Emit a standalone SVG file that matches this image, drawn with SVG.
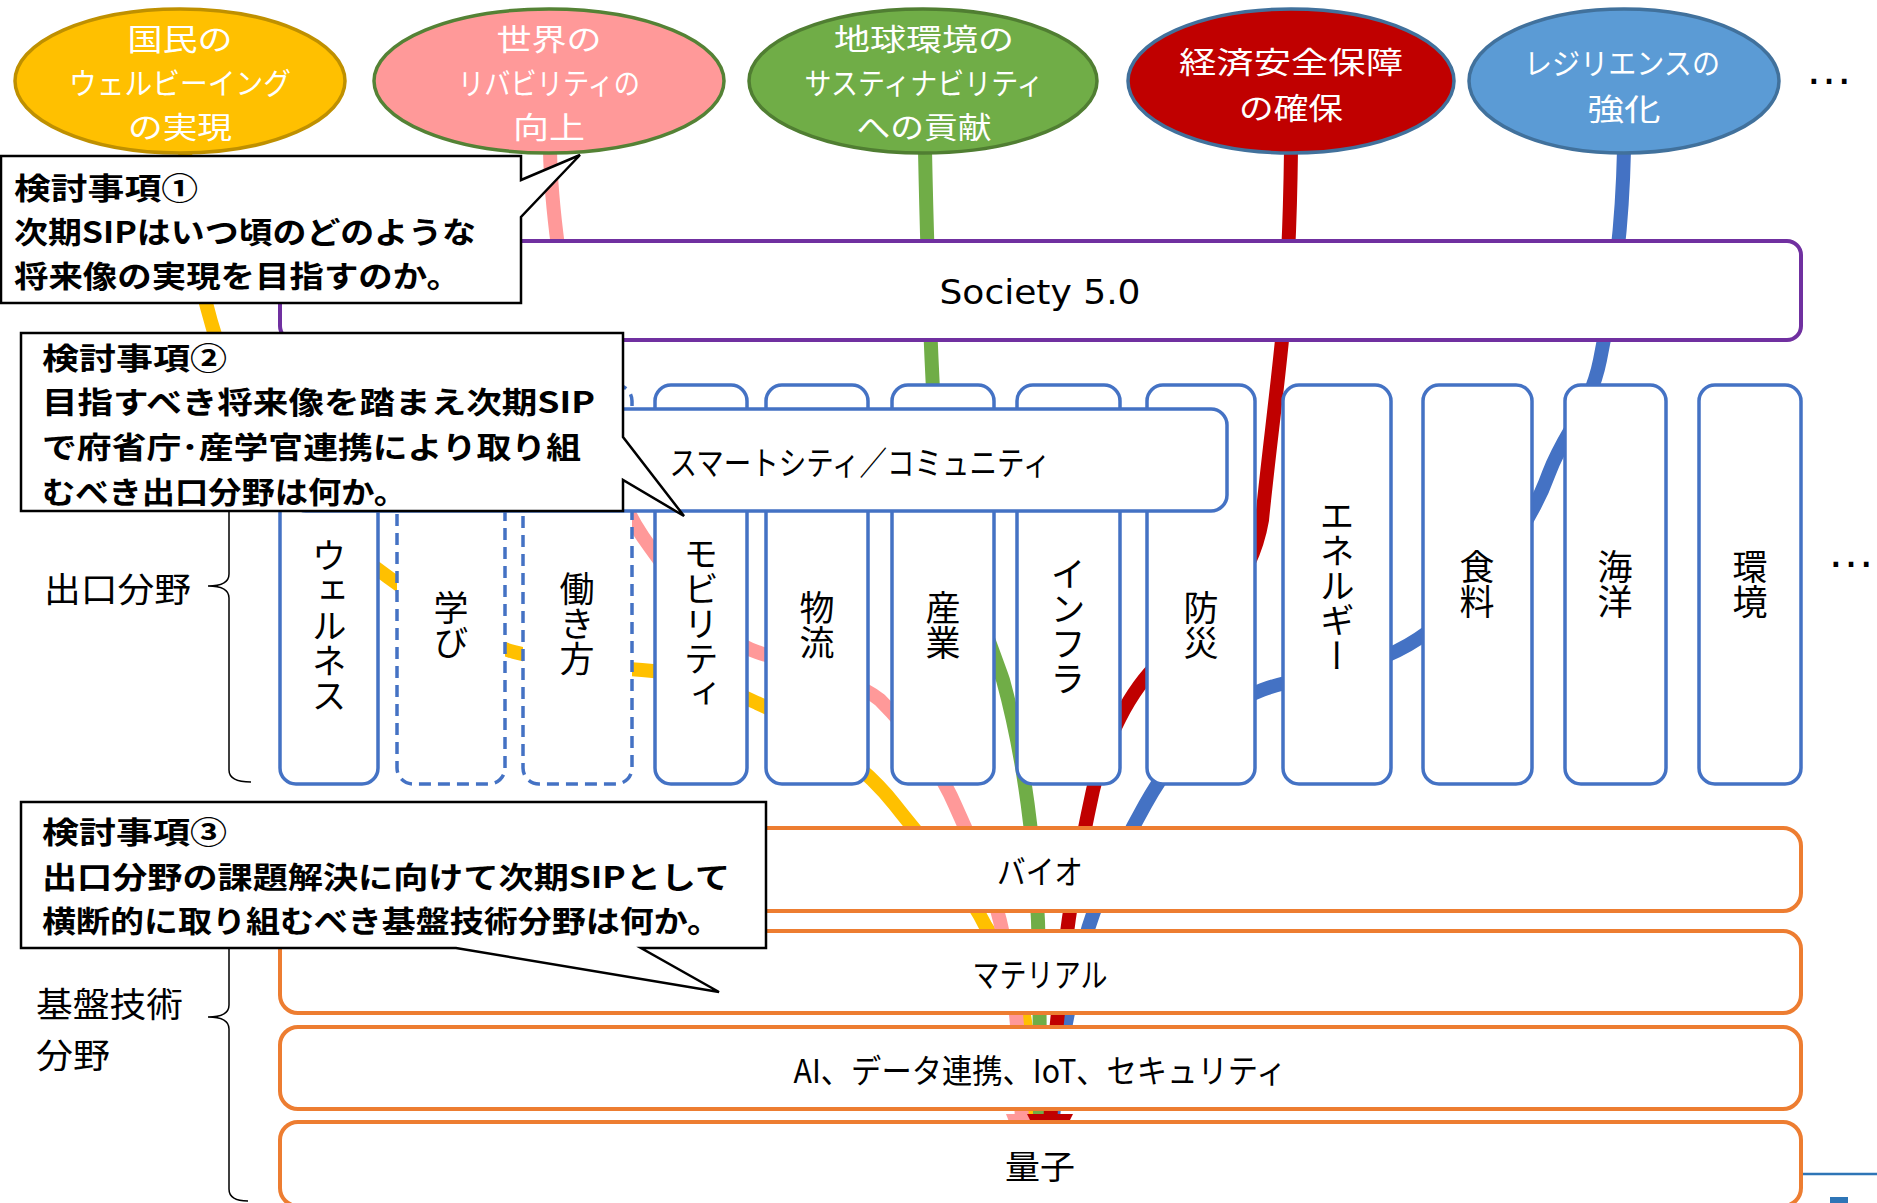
<svg xmlns="http://www.w3.org/2000/svg" width="1877" height="1203" viewBox="0 0 1877 1203">
<style>
.et{font-family:"Noto Sans CJK JP",sans-serif;font-size:30px;fill:#fff;text-anchor:middle;dominant-baseline:central}
.lb{font-family:"Noto Sans CJK JP",sans-serif;font-size:33px;fill:#000;text-anchor:middle;dominant-baseline:central}
.vt{font-family:"Noto Sans CJK JP",sans-serif;font-size:35px;fill:#000;writing-mode:vertical-rl;text-anchor:middle}
.co{font-family:"Noto Sans CJK JP",sans-serif;font-size:30px;font-weight:700;fill:#000;dominant-baseline:central}
.side{font-family:"Noto Sans CJK JP",sans-serif;font-size:34.5px;fill:#000;dominant-baseline:central}
.dots{font-family:"Liberation Sans",sans-serif;font-size:48px;fill:#000;text-anchor:middle}
.exit{fill:#fff;stroke:#4472C4;stroke-width:3.5}
.exitd{fill:#fff;stroke:#4472C4;stroke-width:3.5;stroke-dasharray:12 7}
.found{fill:#fff;stroke:#ED7D31;stroke-width:4}
.ln{fill:none;stroke-width:14}
.callout{fill:#fff;stroke:#000;stroke-width:2.5;stroke-linejoin:miter}
.brace{fill:none;stroke:#000;stroke-width:1.5}
</style>

<g id="connectors">
  <path class="ln" stroke="#FFC000" d="M185,150 C192,330 250,480 388,577 C440,614 470,640 514,652 C560,664 600,667 642,670 C690,673 725,688 757,703 C800,722 860,760 895,805 C930,850 965,885 985,925 C1010,965 1025,1000 1027,1040 L1030,1130"/>
  <path class="ln" stroke="#FF9999" d="M550,150 C552,260 590,460 643,537 C680,590 720,640 757,652 C810,670 855,680 880,700 C910,730 940,770 955,805 C975,850 990,880 1000,921 C1012,970 1020,1020 1022,1130"/>
  <path class="ln" stroke="#70AD47" d="M925,150 C927,250 930,330 933,390 C940,520 978,610 1003,680 C1025,760 1035,850 1038,921 C1040,990 1040,1050 1040,1130"/>
  <path class="ln" stroke="#4472C4" d="M1624,150 C1622,240 1612,300 1600,360 C1590,410 1565,430 1549,473 C1525,540 1460,615 1408,645 C1356,675 1300,675 1262,690 C1210,710 1170,760 1145,805 C1120,850 1095,900 1085,940 C1072,990 1058,1050 1052,1130"/>
  <path class="ln" stroke="#C00000" d="M1291,150 C1290,230 1287,290 1282,340 C1276,400 1268,460 1262,520 C1250,590 1200,630 1160,662 C1130,690 1105,740 1093,790 C1080,850 1070,900 1065,950 C1058,1010 1052,1060 1050,1130"/>
  <polygon fill="#FF9999" points="1006,1114 1032,1114 1020,1150"/>
  <polygon fill="#C00000" points="1027,1114 1073,1114 1050,1160"/>
</g>

<g id="n-wellbeing">
  <ellipse cx="180" cy="81" rx="165" ry="72" fill="#FFC000" stroke="#BF9000" stroke-width="3.5"/>
  <text class="et"><tspan x="180" y="37" textLength="105" lengthAdjust="spacingAndGlyphs">国民の</tspan><tspan x="180" y="81" textLength="222" lengthAdjust="spacingAndGlyphs">ウェルビーイング</tspan><tspan x="180" y="125" textLength="104" lengthAdjust="spacingAndGlyphs">の実現</tspan></text>
</g>
<g id="n-livability">
  <ellipse cx="549" cy="81" rx="175" ry="72" fill="#FF9999" stroke="#548235" stroke-width="3.5"/>
  <text class="et"><tspan x="549" y="37" textLength="105" lengthAdjust="spacingAndGlyphs">世界の</tspan><tspan x="549" y="81" textLength="182" lengthAdjust="spacingAndGlyphs">リバビリティの</tspan><tspan x="549" y="125" textLength="72" lengthAdjust="spacingAndGlyphs">向上</tspan></text>
</g>
<g id="n-sustainability">
  <ellipse cx="923" cy="81" rx="174" ry="72" fill="#70AD47" stroke="#507E32" stroke-width="3.5"/>
  <text class="et"><tspan x="924" y="37" textLength="180" lengthAdjust="spacingAndGlyphs">地球環境の</tspan><tspan x="924" y="81" textLength="239" lengthAdjust="spacingAndGlyphs">サスティナビリティ</tspan><tspan x="924" y="125" textLength="135" lengthAdjust="spacingAndGlyphs">への貢献</tspan></text>
</g>
<g id="n-security">
  <ellipse cx="1291" cy="81" rx="163" ry="72" fill="#C00000" stroke="#41719C" stroke-width="3.5"/>
  <text class="et"><tspan x="1291" y="60" textLength="224" lengthAdjust="spacingAndGlyphs">経済安全保障</tspan><tspan x="1291" y="106" textLength="104" lengthAdjust="spacingAndGlyphs">の確保</tspan></text>
</g>
<g id="n-resilience">
  <ellipse cx="1624" cy="81" rx="155" ry="72" fill="#5B9BD5" stroke="#41719C" stroke-width="3.5"/>
  <text class="et"><tspan x="1622" y="61" textLength="196" lengthAdjust="spacingAndGlyphs">レジリエンスの</tspan><tspan x="1624" y="107" textLength="73" lengthAdjust="spacingAndGlyphs">強化</tspan></text>
</g>
<text class="dots" x="1829" y="84">…</text>

<g id="n-society">
  <rect x="280" y="241" width="1521" height="99" rx="14" fill="#fff" stroke="#7030A0" stroke-width="4"/>
  <text x="1040" y="292" font-family="DejaVu Sans, sans-serif" font-size="34" text-anchor="middle" dominant-baseline="central" textLength="201" lengthAdjust="spacingAndGlyphs">Society 5.0</text>
</g>

<g id="n-wellness"><rect class="exit" x="280" y="385" width="98" height="399" rx="16"/><text class="vt" x="329" y="626">ウェルネス</text></g>
<g id="n-learning"><rect class="exitd" x="397" y="385" width="108" height="399" rx="16"/><text class="vt" x="451" y="625">学び</text></g>
<g id="n-working"><rect class="exitd" x="523" y="385" width="109" height="399" rx="16"/><text class="vt" x="577" y="624">働き方</text></g>
<g id="n-mobility"><rect class="exit" x="655" y="385" width="92" height="399" rx="16"/><text class="vt" x="701" y="624">モビリティ</text></g>
<g id="n-logistics"><rect class="exit" x="766" y="385" width="102" height="399" rx="16"/><text class="vt" x="817" y="625">物流</text></g>
<g id="n-industry"><rect class="exit" x="892" y="385" width="102" height="399" rx="16"/><text class="vt" x="943" y="625">産業</text></g>
<g id="n-infra"><rect class="exit" x="1017" y="385" width="103" height="399" rx="16"/><text class="vt" x="1068" y="626">インフラ</text></g>
<g id="n-disaster"><rect class="exit" x="1147" y="385" width="108" height="399" rx="16"/><text class="vt" x="1201" y="625">防災</text></g>
<g id="n-energy"><rect class="exit" x="1283" y="385" width="108" height="399" rx="16"/><text class="vt" x="1337" y="586">エネルギー</text></g>
<g id="n-food"><rect class="exit" x="1423" y="385" width="109" height="399" rx="16"/><text class="vt" x="1477" y="584">食料</text></g>
<g id="n-ocean"><rect class="exit" x="1565" y="385" width="101" height="399" rx="16"/><text class="vt" x="1615" y="584">海洋</text></g>
<g id="n-environment"><rect class="exit" x="1699" y="385" width="102" height="399" rx="16"/><text class="vt" x="1750" y="584">環境</text></g>
<text class="dots" x="1851" y="567">…</text>

<g id="n-smartcity">
  <rect class="exit" x="290" y="409" width="937" height="102" rx="16"/>
  <text class="lb" x="860" y="461" textLength="381" lengthAdjust="spacingAndGlyphs">スマートシティ／コミュニティ</text>
</g>

<g id="n-bio"><rect class="found" x="280" y="828" width="1521" height="83" rx="18"/><text class="lb" x="1040" y="870" textLength="86" lengthAdjust="spacingAndGlyphs">バイオ</text></g>
<g id="n-material"><rect class="found" x="280" y="931" width="1521" height="82" rx="18"/><text class="lb" x="1040" y="973" textLength="135" lengthAdjust="spacingAndGlyphs">マテリアル</text></g>
<g id="n-ai"><rect class="found" x="280" y="1027" width="1521" height="82" rx="18"/><text class="lb" x="1040" y="1069" textLength="493" lengthAdjust="spacingAndGlyphs">AI、データ連携、IoT、セキュリティ</text></g>
<g id="n-quantum"><rect class="found" x="280" y="1122" width="1521" height="84" rx="18"/><text class="lb" x="1040" y="1165" textLength="70" lengthAdjust="spacingAndGlyphs">量子</text></g>

<g id="labels">
  <text class="side" x="44" y="587" textLength="147" lengthAdjust="spacingAndGlyphs">出口分野</text>
  <path class="brace" d="M251,386 Q229,386 229,400 L229,574 Q229,586 208,586 Q229,586 229,598 L229,770 Q229,782 251,782"/>
  <text class="side"><tspan x="36" y="1002" textLength="147" lengthAdjust="spacingAndGlyphs">基盤技術</tspan><tspan x="36" y="1053" textLength="74" lengthAdjust="spacingAndGlyphs">分野</tspan></text>
  <path class="brace" d="M250,830 Q229,830 229,845 L229,1005 Q229,1017 208,1017 Q229,1017 229,1029 L229,1189 Q229,1201 248,1201"/>
</g>

<g id="callout-1">
  <path class="callout" d="M1,156 L521,156 L521,180 L580,155 L521,217 L521,303 L1,303 Z"/>
  <text class="co"><tspan x="14" y="186" textLength="184" lengthAdjust="spacingAndGlyphs">検討事項①</tspan><tspan x="14" y="230" textLength="462" lengthAdjust="spacingAndGlyphs">次期SIPはいつ頃のどのような</tspan><tspan x="14" y="274" textLength="447" lengthAdjust="spacingAndGlyphs">将来像の実現を目指すのか。</tspan></text>
</g>
<g id="callout-2">
  <path class="callout" d="M21,333 L623,333 L623,437 L684,516 L623,480 L623,511 L21,511 Z"/>
  <text class="co"><tspan x="42" y="356" textLength="185" lengthAdjust="spacingAndGlyphs">検討事項②</tspan><tspan x="42" y="400" textLength="553" lengthAdjust="spacingAndGlyphs">目指すべき将来像を踏まえ次期SIP</tspan><tspan x="42" y="445" textLength="539" lengthAdjust="spacingAndGlyphs">で府省庁･産学官連携により取り組</tspan><tspan x="42" y="490" textLength="365" lengthAdjust="spacingAndGlyphs">むべき出口分野は何か。</tspan></text>
</g>
<g id="callout-3">
  <path class="callout" d="M21,802 L766,802 L766,948 L641,948 L719,992 L456,948 L21,948 Z"/>
  <text class="co"><tspan x="42" y="830" textLength="185" lengthAdjust="spacingAndGlyphs">検討事項③</tspan><tspan x="42" y="875" textLength="688" lengthAdjust="spacingAndGlyphs">出口分野の課題解決に向けて次期SIPとして</tspan><tspan x="42" y="919" textLength="679" lengthAdjust="spacingAndGlyphs">横断的に取り組むべき基盤技術分野は何か。</tspan></text>
</g>

<line x1="1803" y1="1174" x2="1877" y2="1174" stroke="#2E75B6" stroke-width="2.5"/>
<rect x="1830" y="1197" width="18" height="6" fill="#2E75B6"/>
</svg>
